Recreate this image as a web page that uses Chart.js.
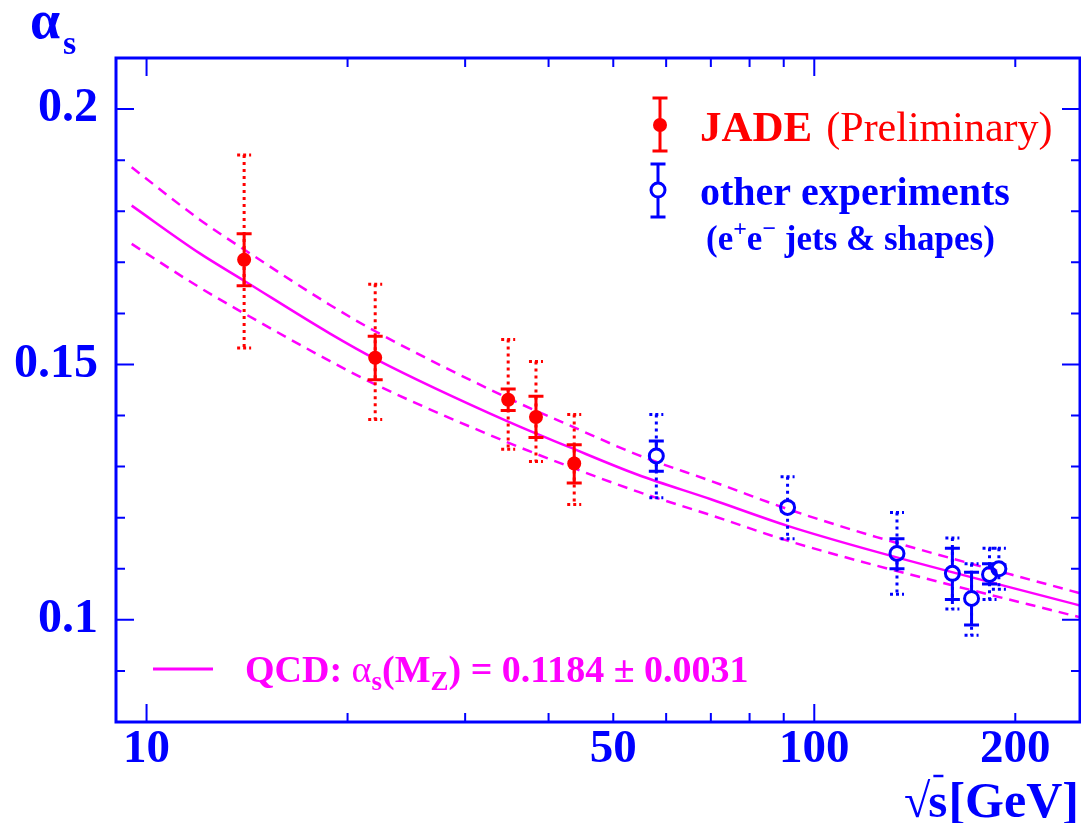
<!DOCTYPE html>
<html><head><meta charset="utf-8">
<script src="https://cdn.jsdelivr.net/npm/chart.js@4.4.1/dist/chart.umd.min.js"></script>
<style>
html,body{margin:0;padding:0;overflow:hidden;background:#fff;width:1081px;height:823px}
#wrap{position:relative;width:1081px;height:823px;overflow:hidden}
canvas{display:block}
</style></head>
<body><div id="wrap"><canvas id="c" width="1090" height="823"></canvas></div>
<script>
// ---- data ----
const jadeEnergy   = [14.0, 22.0, 34.8, 38.3, 43.7];
const jadeAlpha    = [0.1705, 0.1513, 0.1431, 0.1397, 0.1306];
const jadeStatLow  = [0.1654, 0.1470, 0.1410, 0.1357, 0.1268];
const jadeStatHigh = [0.1756, 0.1555, 0.1452, 0.1438, 0.1343];
const jadeTotLow   = [0.1532, 0.1392, 0.1334, 0.1310, 0.1226];
const jadeTotHigh  = [0.1910, 0.1657, 0.1549, 0.1506, 0.1402];

const otherEnergy   = [58.0, 91.2, 133.0, 161.0, 172.0, 183.0, 189.0];
const otherAlpha    = [0.1321, 0.1220, 0.1130, 0.1091, 0.1042, 0.1089, 0.1100];
const otherStatLow  = [0.1291, 0.1213, 0.1100, 0.1040, 0.0990, 0.1070, 0.1092];
const otherStatHigh = [0.1350, 0.1227, 0.1159, 0.1140, 0.1093, 0.1110, 0.1108];
const otherTotLow   = [0.1239, 0.1159, 0.1050, 0.1021, 0.0970, 0.1040, 0.1060];
const otherTotHigh  = [0.1402, 0.1280, 0.1210, 0.1160, 0.1110, 0.1140, 0.1140];

const qcdEnergy  = [9.5, 12.0, 14.0, 18.8, 22.0, 34.8, 42.8, 54.4, 70.0, 91.2, 124.0, 250.0];
const qcdCentral = [0.1811, 0.1718, 0.1664, 0.1561, 0.1511, 0.1388, 0.1339, 0.1284, 0.1236, 0.1184, 0.1133, 0.1028];
const qcdUpper   = [0.1886, 0.1784, 0.1725, 0.1617, 0.1565, 0.1434, 0.1382, 0.1323, 0.1272, 0.1217, 0.1162, 0.1052];
const qcdLower   = [0.1736, 0.1651, 0.1600, 0.1507, 0.1461, 0.1347, 0.1301, 0.1251, 0.1205, 0.1155, 0.1106, 0.1005];

const xTickValues = [10, 50, 100, 200];
const xTickText   = ['10', '50', '100', '200'];
const xMajorTicks = [10, 100];
const xMinorTicks = [20, 30, 40, 50, 60, 70, 80, 90, 200];
const yTickValues = [0.1, 0.15, 0.2];
const yTickText   = ['0.1', '0.15', '0.2'];
const yMajorTicks = [0.1, 0.15, 0.2];
const yMinorTicks = [0.09, 0.11, 0.12, 0.13, 0.14, 0.16, 0.17, 0.18, 0.19];

// ---- styling ----
const BLUE = '#0000ff', RED = '#ff0000', MAG = '#ff00ff';
const SERIF = "'Liberation Serif','DejaVu Serif',serif";
const PR = 7;

function pts(xs, ys){ return xs.map((x,i)=>({x:x, y:ys[i]})); }

function drawRuns(ctx, x, y, runs, color){
  ctx.save();
  ctx.fillStyle = color;
  ctx.textBaseline = 'alphabetic';
  ctx.textAlign = 'left';
  for (const r of runs){
    ctx.font = r.f;
    ctx.fillText(r.t, x + (r.dx||0), y + (r.dy||0));
    x += ctx.measureText(r.t).width + (r.dx||0) + (r.gap||0);
  }
  ctx.restore();
  return x;
}

function vDotted(ctx, x, y1, y2, color){
  ctx.save();
  ctx.strokeStyle = color; ctx.lineWidth = 3; ctx.setLineDash([3,4]);
  ctx.beginPath(); ctx.moveTo(x, y1); ctx.lineTo(x, y2); ctx.stroke();
  ctx.setLineDash([3,3]);
  ctx.beginPath(); ctx.moveTo(x-7, y1); ctx.lineTo(x+7, y1);
  ctx.moveTo(x-7, y2); ctx.lineTo(x+7, y2); ctx.stroke();
  ctx.restore();
}
function vSolid(ctx, x, y1, y2, color){
  ctx.save();
  ctx.strokeStyle = color; ctx.lineWidth = 3;
  ctx.beginPath(); ctx.moveTo(x, y1); ctx.lineTo(x, y2);
  ctx.moveTo(x-7.5, y1); ctx.lineTo(x+7.5, y1);
  ctx.moveTo(x-7.5, y2); ctx.lineTo(x+7.5, y2); ctx.stroke();
  ctx.restore();
}

const errorBars = {
  id: 'errorBars',
  afterDatasetsDraw(chart){
    const ctx = chart.ctx, xs = chart.scales.x, ys = chart.scales.y;
    jadeEnergy.forEach((e,i)=>{
      const px = xs.getPixelForValue(e);
      vDotted(ctx, px, ys.getPixelForValue(jadeTotHigh[i]), ys.getPixelForValue(jadeTotLow[i]), RED);
      vSolid(ctx, px, ys.getPixelForValue(jadeStatHigh[i]), ys.getPixelForValue(jadeStatLow[i]), RED);
    });
    ctx.save();
    ctx.beginPath();
    ctx.rect(0, 0, chart.width, chart.height);
    otherEnergy.forEach((e,i)=>{
      const px = xs.getPixelForValue(e), py = ys.getPixelForValue(otherAlpha[i]);
      ctx.moveTo(px + PR, py);
      ctx.arc(px, py, PR, 0, Math.PI*2, true);
    });
    ctx.clip('evenodd');
    otherEnergy.forEach((e,i)=>{
      const px = xs.getPixelForValue(e);
      vDotted(ctx, px, ys.getPixelForValue(otherTotHigh[i]), ys.getPixelForValue(otherTotLow[i]), BLUE);
      vSolid(ctx, px, ys.getPixelForValue(otherStatHigh[i]), ys.getPixelForValue(otherStatLow[i]), BLUE);
    });
    ctx.restore();
  }
};

const frame = {
  id: 'frame',
  afterDraw(chart){
    const ctx = chart.ctx, a = chart.chartArea, xs = chart.scales.x, ys = chart.scales.y;
    ctx.save();
    ctx.strokeStyle = BLUE;
    ctx.lineWidth = 3;
    ctx.strokeRect(a.left, a.top, a.right - a.left, a.bottom - a.top);
    ctx.lineWidth = 2;
    ctx.beginPath();
    const tk = (v, len) => { const px = xs.getPixelForValue(v);
      ctx.moveTo(px, a.bottom); ctx.lineTo(px, a.bottom - len);
      ctx.moveTo(px, a.top); ctx.lineTo(px, a.top + len); };
    xMajorTicks.forEach(v=>tk(v, 18));
    xMinorTicks.forEach(v=>tk(v, 9));
    const tky = (v, len) => { const py = ys.getPixelForValue(v);
      ctx.moveTo(a.left, py); ctx.lineTo(a.left + len, py);
      ctx.moveTo(a.right, py); ctx.lineTo(a.right - len, py); };
    yMajorTicks.forEach(v=>tky(v, 18));
    yMinorTicks.forEach(v=>tky(v, 9));
    ctx.stroke();
    ctx.restore();

    // axis titles
    drawRuns(ctx, 30, 38, [{t:'α', f:`bold 54px ${SERIF}`}], BLUE);
    drawRuns(ctx, 63, 54, [{t:'s', f:`bold 34px ${SERIF}`}], BLUE);
    const xe = drawRuns(ctx, 904, 817, [{t:'√', f:`48px ${SERIF}`}], BLUE);
    const xs2 = drawRuns(ctx, xe - 2, 817, [{t:'s', f:`bold 49px ${SERIF}`}], BLUE);
    ctx.save(); ctx.strokeStyle = BLUE; ctx.lineWidth = 2.5;
    ctx.beginPath(); ctx.moveTo(xe + 3, 776); ctx.lineTo(xs2 - 4, 776); ctx.stroke(); ctx.restore();
    drawRuns(ctx, xs2 + 1, 817, [{t:'[GeV]', f:`bold 50px ${SERIF}`}], BLUE);

    // legend: JADE
    vSolid(ctx, 660, 98, 151, RED);
    ctx.save(); ctx.fillStyle = RED; ctx.beginPath(); ctx.arc(660, 125, PR, 0, Math.PI*2); ctx.fill(); ctx.restore();
    drawRuns(ctx, 700, 141, [{t:'JADE', f:`bold 43px ${SERIF}`, gap:14}, {t:'(Preliminary)', f:`42px ${SERIF}`}], RED);
    // legend: others
    ctx.save();
    ctx.beginPath(); ctx.rect(0,0,chart.width,chart.height);
    ctx.moveTo(658+PR, 190); ctx.arc(658, 190, PR, 0, Math.PI*2, true); ctx.clip('evenodd');
    vSolid(ctx, 658, 164, 217, BLUE);
    ctx.restore();
    ctx.save(); ctx.strokeStyle = BLUE; ctx.lineWidth = 3; ctx.beginPath(); ctx.arc(658, 190, PR, 0, Math.PI*2); ctx.stroke(); ctx.restore();
    drawRuns(ctx, 700, 205, [{t:'other experiments', f:`bold 40px ${SERIF}`}], BLUE);
    drawRuns(ctx, 706, 250, [
      {t:'(e', f:`bold 35px ${SERIF}`},
      {t:'+', f:`bold 24px ${SERIF}`, dy:-14},
      {t:'e', f:`bold 35px ${SERIF}`},
      {t:'−', f:`bold 24px ${SERIF}`, dy:-14},
      {t:' jets & shapes)', f:`bold 35px ${SERIF}`}
    ], BLUE);

    // legend: QCD
    ctx.save(); ctx.strokeStyle = MAG; ctx.lineWidth = 3;
    ctx.beginPath(); ctx.moveTo(153, 669); ctx.lineTo(213, 669); ctx.stroke(); ctx.restore();
    drawRuns(ctx, 245, 682, [
      {t:'QCD: ', f:`bold 38px ${SERIF}`},
      {t:'α', f:`38px ${SERIF}`},
      {t:'s', f:`bold 27px ${SERIF}`, dy:8},
      {t:'(M', f:`bold 38px ${SERIF}`},
      {t:'Z', f:`bold 27px ${SERIF}`, dy:8},
      {t:') = 0.1184 ± 0.0031', f:`bold 38px ${SERIF}`}
    ], MAG);
  }
};

new Chart(document.getElementById('c').getContext('2d'), {
  type: 'scatter',
  data: { datasets: [
    { data: pts(otherEnergy, otherAlpha), order: 0, pointRadius: PR, pointBackgroundColor: 'rgba(0,0,0,0)', pointBorderColor: BLUE, pointBorderWidth: 3, showLine: false },
    { data: pts(jadeEnergy, jadeAlpha), order: 0, pointRadius: PR, pointBackgroundColor: RED, pointBorderColor: RED, pointBorderWidth: 0, showLine: false },
    { data: pts(qcdEnergy, qcdCentral), order: 1, showLine: true, pointRadius: 0, borderColor: MAG, borderWidth: 2.5, cubicInterpolationMode: 'monotone' },
    { data: pts(qcdEnergy, qcdUpper), order: 1, showLine: true, pointRadius: 0, borderColor: MAG, borderWidth: 2.5, borderDash: [10,7], cubicInterpolationMode: 'monotone' },
    { data: pts(qcdEnergy, qcdLower), order: 1, showLine: true, pointRadius: 0, borderColor: MAG, borderWidth: 2.5, borderDash: [10,7], cubicInterpolationMode: 'monotone' }
  ]},
  options: {
    responsive: false, animation: false, events: [],
    layout: { padding: { top: 58, right: 6, left: 0, bottom: 0 } },
    plugins: { legend: { display: false }, tooltip: { enabled: false } },
    scales: {
      x: {
        type: 'logarithmic', min: 9, max: 250,
        afterBuildTicks: s => { s.ticks = xTickValues.map(v => ({ value: v })); },
        afterFit: s => { s.height = 101; },
        grid: { display: false, drawTicks: false }, border: { display: false },
        ticks: { autoSkip: false, maxRotation: 0, padding: 4, color: BLUE,
          font: { family: SERIF, weight: 'bold', size: 47, lineHeight: 1 },
          callback: (v, i) => xTickText[i] }
      },
      y: {
        type: 'linear', min: 0.08, max: 0.21,
        afterBuildTicks: s => { s.ticks = yTickValues.map(v => ({ value: v })); },
        afterFit: s => { s.width = 116; },
        grid: { display: false, drawTicks: false }, border: { display: false },
        ticks: { autoSkip: false, padding: 18, color: BLUE,
          font: { family: SERIF, weight: 'bold', size: 48, lineHeight: 1 },
          callback: (v, i) => yTickText[i] }
      }
    }
  },
  plugins: [errorBars, frame]
});
</script>
</body></html>
